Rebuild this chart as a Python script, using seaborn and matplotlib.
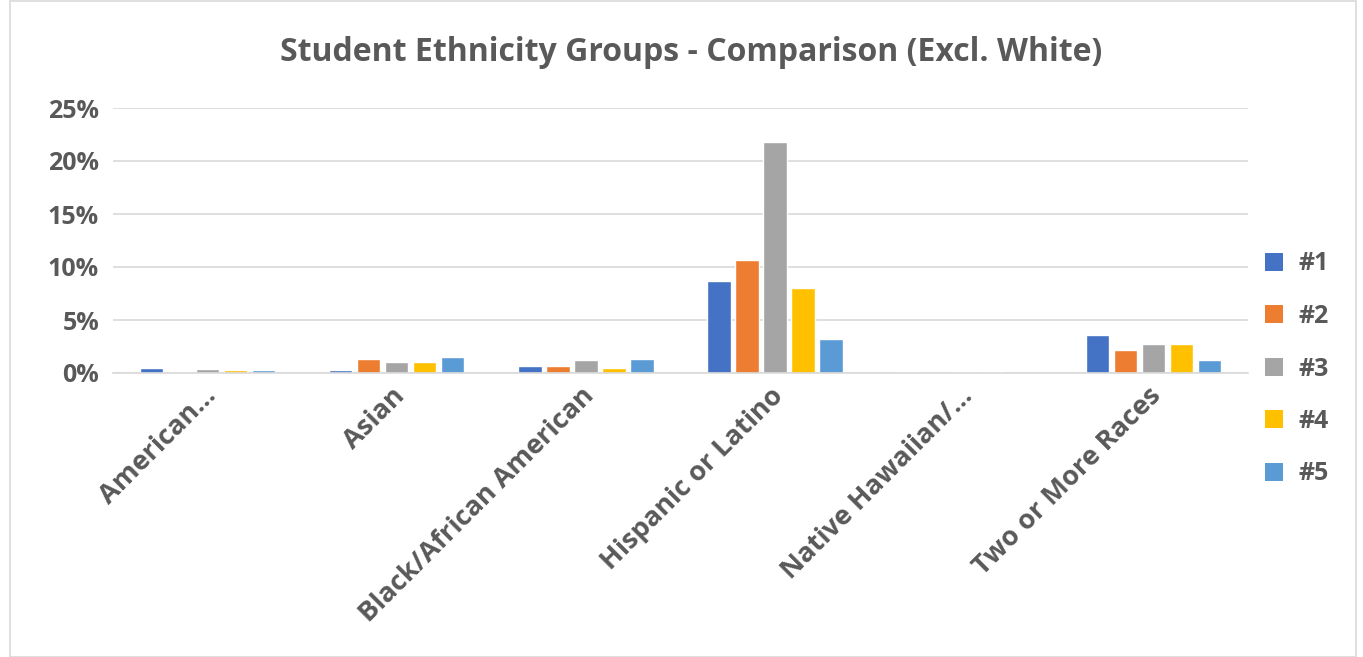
import matplotlib
matplotlib.use("Agg")
import matplotlib.pyplot as plt
import matplotlib.transforms as mtransforms
import seaborn as sns
import pandas as pd
from matplotlib.patches import Rectangle, Patch

categories = ["American...", "Asian", "Black/African American", "Hispanic or Latino",
              "Native Hawaiian/...", "Two or More Races"]
series_names = ["#1", "#2", "#3", "#4", "#5"]
s1 = [0.45, 0.25, 0.7, 8.65, 0.05, 3.6]
s2 = [0.05, 1.35, 0.7, 10.65, 0.0, 2.2]
s3 = [0.35, 1.05, 1.2, 21.8, 0.05, 2.7]
s4 = [0.25, 1.0, 0.5, 8.05, 0.05, 2.7]
s5 = [0.25, 1.5, 1.35, 3.2, 0.0, 1.2]
colors = ["#4472C4", "#ED7D31", "#A5A5A5", "#FFC000", "#5B9BD5"]

rows = []
for name, vals in zip(series_names, [s1, s2, s3, s4, s5]):
    for c, v in zip(categories, vals):
        rows.append({"Category": c, "Series": name, "Value": v})
df = pd.DataFrame(rows)

sns.set_theme(style="white")
plt.rcParams['font.family'] = ['Open Sans', 'DejaVu Sans']
text_color = "#595959"

fig = plt.figure(figsize=(13.63, 6.57), dpi=100)
ax = fig.add_axes([113/1363, 1-373/657, (1248-113)/1363, (373-108)/657])

sns.barplot(data=df, x="Category", y="Value", hue="Series", palette=colors,
            width=0.74, gap=0.17, ax=ax, legend=False, saturation=1)

ax.set_ylim(0, 25)
ax.set_xlim(-0.5, len(categories) - 0.5)
ax.set_yticks([0, 5, 10, 15, 20, 25])
ax.grid(axis="y", color="#D9D9D9", linewidth=1.2)
ax.set_axisbelow(True)
for s in ["top", "right", "left"]:
    ax.spines[s].set_visible(False)
ax.spines["bottom"].set_color("#D9D9D9")
ax.spines["bottom"].set_linewidth(1.2)
ax.set_xlabel("")
ax.set_ylabel("")
ax.tick_params(axis="both", length=0, colors=text_color)
ax.tick_params(axis="y", pad=10)
ax.set_yticklabels([f"{v}%" for v in [0, 5, 10, 15, 20, 25]], fontweight="bold",
                   fontsize=18, color=text_color)
ax.set_xticks(range(len(categories)))
ax.set_xticklabels(categories, rotation=45, ha="right", rotation_mode="anchor",
                   fontweight="bold", color=text_color, fontsize=19.5)
ax.tick_params(axis="x", pad=7)
offset = mtransforms.ScaledTranslation(-5/100, 0, fig.dpi_scale_trans)
for lbl in ax.get_xticklabels():
    lbl.set_transform(lbl.get_transform() + offset)

fig.suptitle("Student Ethnicity Groups - Comparison (Excl. White)", x=0.507, y=0.945,
             fontsize=23, fontweight="bold", color=text_color)

handles = [Patch(facecolor=c, edgecolor="none") for c in colors]
leg = fig.legend(handles, series_names, loc="center left", bbox_to_anchor=(1242/1363, 1-369/657),
                 frameon=False, handlelength=0.75, handleheight=0.75, labelspacing=1.1,
                 handletextpad=0.6, prop={"size": 18, "weight": "bold"})
for t in leg.get_texts():
    t.set_color(text_color)

fig.patches.append(Rectangle((10/1363, 0.0), (1356-10)/1363, 0.998, transform=fig.transFigure,
                             fill=False, edgecolor="#D9D9D9", linewidth=1.2))

fig.savefig("out.png", dpi=100)
